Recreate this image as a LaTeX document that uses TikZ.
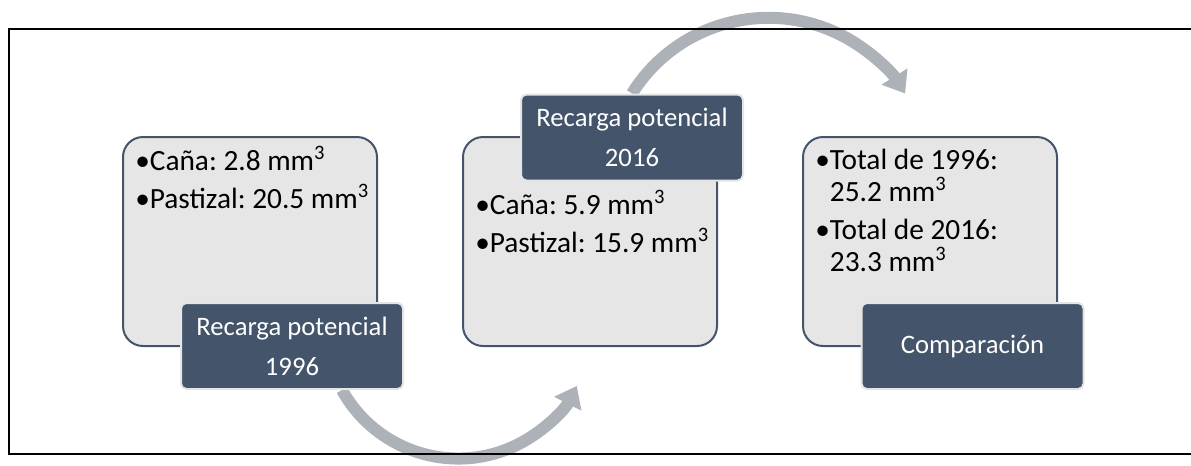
\documentclass[tikz,border=0pt]{standalone}
\usepackage{fontspec}
\setmainfont{Carlito}
\usetikzlibrary{positioning, arrows.meta, backgrounds}
\definecolor{slate}{HTML}{44546A}
\definecolor{boxgray}{HTML}{E7E6E6}
\definecolor{arrowgray}{HTML}{ADB1B8}
\frenchspacing
\tikzset{
  infobox/.style={rectangle, rounded corners=15pt, draw=slate, line width=1.5pt, fill=boxgray, minimum width=190.5pt, minimum height=156.75pt, inner sep=0pt},
  tagbox/.style={rectangle, rounded corners=4pt, draw=white!90!black, line width=1.5pt, fill=slate, text=white, minimum width=166.5pt, minimum height=64.5pt, align=center, font=\fontsize{20}{30}\selectfont, inner sep=0pt},
  itemtext/.style={anchor=base west, align=left, font=\fontsize{22}{24}\selectfont, inner sep=0pt},
  flow/.style={arrowgray, line width=9pt, -{Triangle[width=22pt,length=15pt]}}
}
\newcommand{\cubo}{mm\textsuperscript{3}}
\begin{document}
\begin{tikzpicture}[x=0.75pt, y=-0.75pt]
    \useasboundingbox (0,0) rectangle (1191,465);

    % Recuadros de datos
    \node[infobox] (box1996) at (250,241.5) {};
    \node[infobox] (box2016) at (590,241.5) {};
    \node[infobox] (boxcomp) at (930,241.5) {};

    % Textos de cada recuadro (base = ultima linea)
    \node[itemtext] (txt1996) at (135,208) {\textbullet Caña: 2.8 \cubo\\[4.5pt]\textbullet Pastizal: 20.5 \cubo};
    \node[itemtext] (txt2016) at (475,252) {\textbullet Caña: 5.9 \cubo\\[4.5pt]\textbullet Pastizal: 15.9 \cubo};
    \node[itemtext] (txtcomp) at (815,271) {\textbullet Total de 1996:\\\hphantom{\textbullet}25.2 \cubo\\[4.5pt]\textbullet Total de 2016:\\\hphantom{\textbullet}23.3 \cubo};

    % Etiquetas
    \node[tagbox] (tag1996) at (292,346) {Recarga potencial\\1996};
    \node[tagbox] (tag2016) at (632,137.5) {Recarga potencial\\2016};
    \node[tagbox] (tagcomp) at (972.5,346) {Comparación};

    % Marco
    \draw[line width=1.5pt] (9,29) rectangle (1196,454);

    % Flechas curvas
    \begin{scope}[on background layer]
        \draw[flow] ([xshift=37.5pt]tag1996.south) arc[start angle=151, end angle=27, radius=133];
        \draw[flow] (tag2016.north) arc[start angle=212, end angle=328, radius=161];
    \end{scope}

\end{tikzpicture}
\end{document}
